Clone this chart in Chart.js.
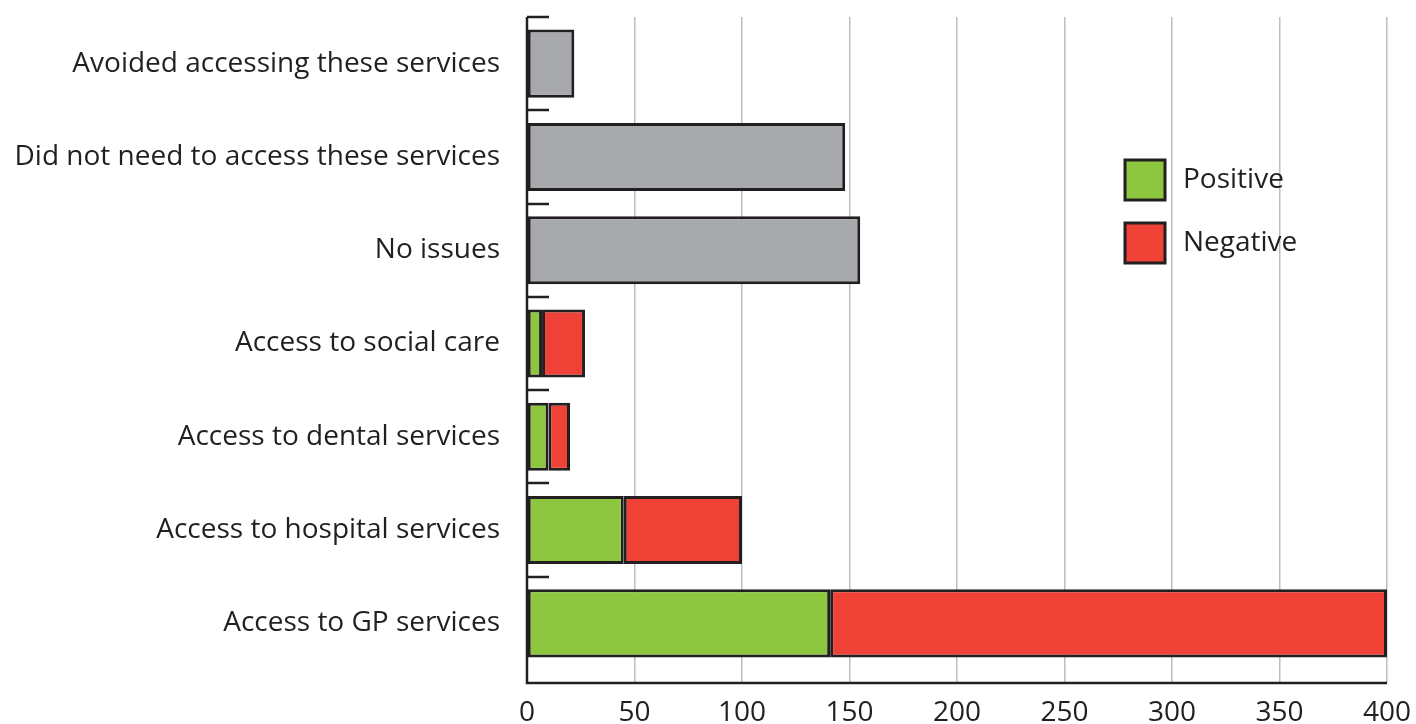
<!DOCTYPE html>
<html>
<head>
<meta charset="utf-8">
<script src="https://cdn.jsdelivr.net/npm/chart.js@4"></script>
<style>
  body { margin: 0; background: #fff; }
  #wrap { width: 1416px; height: 724px; }
</style>
</head>
<body>
<div id="wrap"><canvas id="accessChart"></canvas></div>
<script>
const categories = [
    'Avoided accessing these services',
    'Did not need to access these services',
    'No issues',
    'Access to social care',
    'Access to dental services',
    'Access to hospital services',
    'Access to GP services'
];
const positive = [null, null, null, 7, 10, 45, 141];
const negative = [null, null, null, 20, 10, 55, 259];
const other = [22, 148, 155, null, null, null, null];
const xTicks = [0, 50, 100, 150, 200, 250, 300, 350, 400];

const ink = '#231f20';
const FONT = '"Open Sans", sans-serif';

// y tick marks at category boundaries, axis lines and the floating legend
const decor = {
    id: 'decor',
    afterDatasetsDraw(chart) {
        const c = chart.ctx;
        const area = chart.chartArea;
        const y = chart.scales.y;
        const half = (y.getPixelForTick(1) - y.getPixelForTick(0)) / 2;
        c.save();
        c.strokeStyle = ink;
        c.lineWidth = 2.5;
        for (let i = 0; i < categories.length; i++) {
            const py = Math.round(y.getPixelForTick(i) - half);
            c.beginPath();
            c.moveTo(area.left, py);
            c.lineTo(area.left + 22, py);
            c.stroke();
        }
        const base = area.bottom + 13;
        c.beginPath();
        c.moveTo(area.left, area.top);
        c.lineTo(area.left, base);
        c.lineTo(area.right, base);
        c.stroke();

        // legend
        const items = chart.data.datasets.filter(d => d.inLegend);
        items.forEach((d, i) => {
            const ly = 160 + i * 63;
            c.fillStyle = d.backgroundColor;
            c.fillRect(1125, ly, 40, 40);
            c.lineWidth = 3;
            c.strokeStyle = ink;
            c.strokeRect(1125, ly, 40, 40);
            c.fillStyle = ink;
            c.font = '28px ' + FONT;
            c.textBaseline = 'middle';
            c.fillText(d.label, 1183, ly + 20);
        });
        c.restore();
    }
};

const ctx = document.getElementById('accessChart').getContext('2d');
const accessChart = new Chart(ctx, {
    type: 'bar',
    data: {
        labels: categories,
        datasets: [
            {
                label: 'Positive',
                data: positive,
                backgroundColor: '#8dc63f',
                borderColor: ink,
                borderWidth: 3,
                borderSkipped: false,
                inLegend: true
            },
            {
                label: 'Negative',
                data: negative,
                backgroundColor: '#ef4136',
                borderColor: ink,
                borderWidth: 3,
                borderSkipped: false,
                inLegend: true
            },
            {
                label: 'Other',
                data: other,
                backgroundColor: '#a7a9ac',
                borderColor: ink,
                borderWidth: 3,
                borderSkipped: false,
                inLegend: false
            }
        ]
    },
    options: {
        indexAxis: 'y',
        responsive: true,
        maintainAspectRatio: false,
        animation: false,
        barPercentage: 0.73,
        categoryPercentage: 1,
        layout: { padding: { top: 17, right: 29, left: 0, bottom: 0 } },
        plugins: {
            legend: { display: false },
            tooltip: { enabled: false }
        },
        scales: {
            x: {
                stacked: true,
                min: 0,
                max: 400,
                afterBuildTicks(scale) {
                    scale.ticks = xTicks.map(v => ({ value: v }));
                },
                afterFit(scale) {
                    scale.height = 54;
                    scale.paddingLeft = 0;
                    scale.paddingRight = 0;
                },
                border: { display: false },
                grid: { color: '#bcbec0', lineWidth: 1.5, tickLength: 13 },
                ticks: {
                    color: ink,
                    padding: 13,
                    font: { family: FONT, size: 28 }
                }
            },
            y: {
                stacked: true,
                afterFit(scale) {
                    scale.width = 527;
                    scale.paddingTop = 0;
                    scale.paddingBottom = 0;
                },
                border: { display: false },
                grid: { display: false, drawTicks: false },
                ticks: {
                    color: ink,
                    padding: 27,
                    font: { family: FONT, size: 28 }
                }
            }
        }
    },
    plugins: [decor]
});
</script>
</body>
</html>
